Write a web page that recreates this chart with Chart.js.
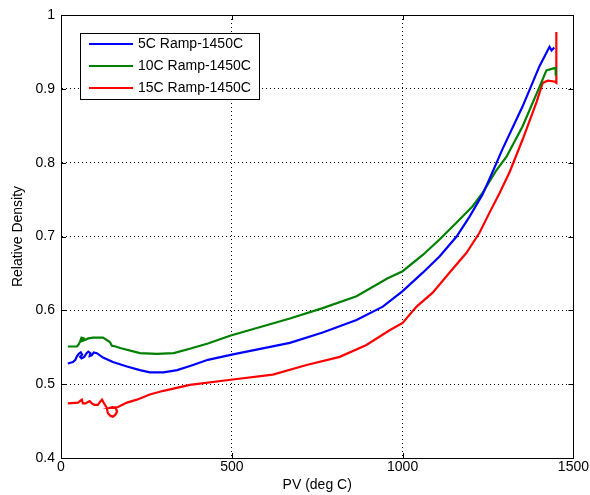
<!DOCTYPE html>
<html>
<head>
<meta charset="utf-8">
<script src="https://cdn.jsdelivr.net/npm/chart.js@4.4.0/dist/chart.umd.min.js"></script>
<style>
html,body{margin:0;padding:0;background:#fff;}
#wrap{width:590px;height:495px;position:relative;}
</style>
</head>
<body>
<div id="wrap"><canvas id="c" width="590" height="495"></canvas></div>
<script>
const seriesLabels = ['5C Ramp-1450C', '10C Ramp-1450C', '15C Ramp-1450C'];
const seriesColors = ['#0000ff', '#008000', '#ff0000'];

const blueX = [20,35,42,47,52,58,62,56,60,68,75,80,86,84,90,96,105,123,152,193,231,260,300,340,380,430,500,670,766,865,942,1000,1059,1108,1158,1196,1234,1263,1292,1351,1401,1430,1436,1444];
const blueY = [0.528,0.530,0.533,0.538,0.541,0.543,0.540,0.537,0.535,0.537,0.542,0.544,0.542,0.538,0.539,0.543,0.542,0.536,0.530,0.524,0.519,0.516,0.516,0.519,0.525,0.533,0.540,0.556,0.570,0.587,0.605,0.626,0.651,0.673,0.700,0.727,0.757,0.787,0.818,0.876,0.931,0.957,0.952,0.956];

const greenX = [20,47,52,56,60,66,62,58,70,80,94,123,143,149,160,173,231,280,330,377,430,497,670,766,865,955,1000,1059,1108,1158,1205,1234,1275,1304,1351,1401,1421,1444,1448,1448];
const greenY = [0.551,0.551,0.554,0.558,0.563,0.562,0.559,0.558,0.560,0.562,0.563,0.563,0.557,0.552,0.551,0.549,0.542,0.541,0.542,0.548,0.555,0.566,0.589,0.603,0.619,0.643,0.653,0.675,0.696,0.719,0.741,0.759,0.790,0.808,0.849,0.903,0.925,0.928,0.928,0.918];

const redX = [20,50,58,61,64,72,79,84,90,98,108,114,120,126,134,137,145,152,160,164,160,150,143,155,167,193,222,260,300,377,497,620,719,816,894,962,1000,1041,1088,1137,1187,1225,1254,1284,1313,1351,1392,1410,1425,1444,1450,1450];
const redY = [0.474,0.475,0.478,0.479,0.474,0.474,0.476,0.477,0.474,0.472,0.472,0.476,0.479,0.474,0.468,0.461,0.457,0.456,0.459,0.463,0.468,0.469,0.468,0.468,0.469,0.475,0.479,0.486,0.491,0.499,0.506,0.513,0.526,0.537,0.553,0.573,0.583,0.605,0.624,0.651,0.678,0.705,0.732,0.759,0.787,0.831,0.882,0.908,0.911,0.910,0.908,0.977];

const xTicks = [0, 500, 1000, 1500];
const yTicks = [0.4, 0.5, 0.6, 0.7, 0.8, 0.9, 1];

function pts(xs, ys) { return xs.map((x, i) => ({x: x, y: ys[i]})); }

const FONT = 'Liberation Sans, Arial, sans-serif';
const FS = 14;

const boxPlugin = {
  id: 'box',
  afterDatasetsDraw(chart) {
    const {ctx, chartArea: a} = chart;
    ctx.save();
    ctx.strokeStyle = '#000';
    ctx.lineWidth = 1;
    ctx.strokeRect(Math.round(a.left) + 0.5, Math.round(a.top) + 0.5, Math.round(a.right - a.left), Math.round(a.bottom - a.top));
    const xs = chart.scales.x, ys = chart.scales.y;
    ctx.beginPath();
    xTicks.forEach(v => {
      const px = Math.round(xs.getPixelForValue(v)) + 0.5;
      ctx.moveTo(px, a.bottom); ctx.lineTo(px, a.bottom - 5);
      ctx.moveTo(px, a.top); ctx.lineTo(px, a.top + 5);
    });
    yTicks.forEach(v => {
      const py = Math.round(ys.getPixelForValue(v)) + 0.5;
      ctx.moveTo(a.left, py); ctx.lineTo(a.left + 5, py);
      ctx.moveTo(a.right, py); ctx.lineTo(a.right - 5, py);
    });
    ctx.stroke();
    // legend box
    const L = 80.5, T = 33.5, W = 179, H = 66;
    ctx.fillStyle = '#fff';
    ctx.fillRect(L, T, W, H);
    ctx.strokeRect(L, T, W, H);
    ctx.font = FS + 'px ' + FONT;
    ctx.textBaseline = 'middle';
    ctx.textAlign = 'left';
    const rows = [44, 66, 88];
    seriesLabels.forEach((lab, i) => {
      ctx.strokeStyle = seriesColors[i];
      ctx.lineWidth = 2;
      ctx.beginPath();
      ctx.moveTo(89, rows[i]); ctx.lineTo(133, rows[i]);
      ctx.stroke();
      ctx.fillStyle = '#000';
      ctx.fillText(lab, 138, rows[i] + 0.5);
    });
    ctx.restore();
  }
};

new Chart(document.getElementById('c'), {
  type: 'scatter',
  data: {
    datasets: [
      {label: seriesLabels[0], data: pts(blueX, blueY), borderColor: seriesColors[0], backgroundColor: seriesColors[0]},
      {label: seriesLabels[1], data: pts(greenX, greenY), borderColor: seriesColors[1], backgroundColor: seriesColors[1]},
      {label: seriesLabels[2], data: pts(redX, redY), borderColor: seriesColors[2], backgroundColor: seriesColors[2]}
    ].map(d => Object.assign(d, {showLine: true, pointRadius: 0, borderWidth: 2.2, tension: 0, fill: false}))
  },
  options: {
    responsive: false,
    animation: false,
    layout: {padding: {top: 15, right: 15, left: 0, bottom: 0}},
    plugins: {legend: {display: false}, tooltip: {enabled: false}},
    scales: {
      x: {
        type: 'linear', min: 0, max: 1500,
        afterBuildTicks: s => { s.ticks = xTicks.map(v => ({value: v})); },
        afterFit: s => { s.height = 37; },
        ticks: {color: '#000', font: {family: FONT, size: FS}, padding: 1, maxRotation: 0, callback: v => String(v)},
        grid: {color: '#000', lineWidth: 1, drawTicks: false},
        border: {display: true, color: '#000', width: 1, dash: [1, 3]},
        title: {display: true, text: 'PV (deg C)', color: '#000', font: {family: FONT, size: FS}, padding: {top: 0, bottom: 1}}
      },
      y: {
        type: 'linear', min: 0.4, max: 1,
        afterBuildTicks: s => { s.ticks = yTicks.map(v => ({value: v})); },
        afterFit: s => { s.width = 61; },
        ticks: {color: '#000', font: {family: FONT, size: FS}, padding: 6, callback: v => String(Math.round(v * 10) / 10)},
        grid: {color: '#000', lineWidth: 1, drawTicks: false},
        border: {display: true, color: '#000', width: 1, dash: [1, 3]},
        title: {display: true, text: 'Relative Density', color: '#000', font: {family: FONT, size: FS}, padding: {top: 10, bottom: 0}}
      }
    }
  },
  plugins: [boxPlugin]
});
</script>
</body>
</html>
